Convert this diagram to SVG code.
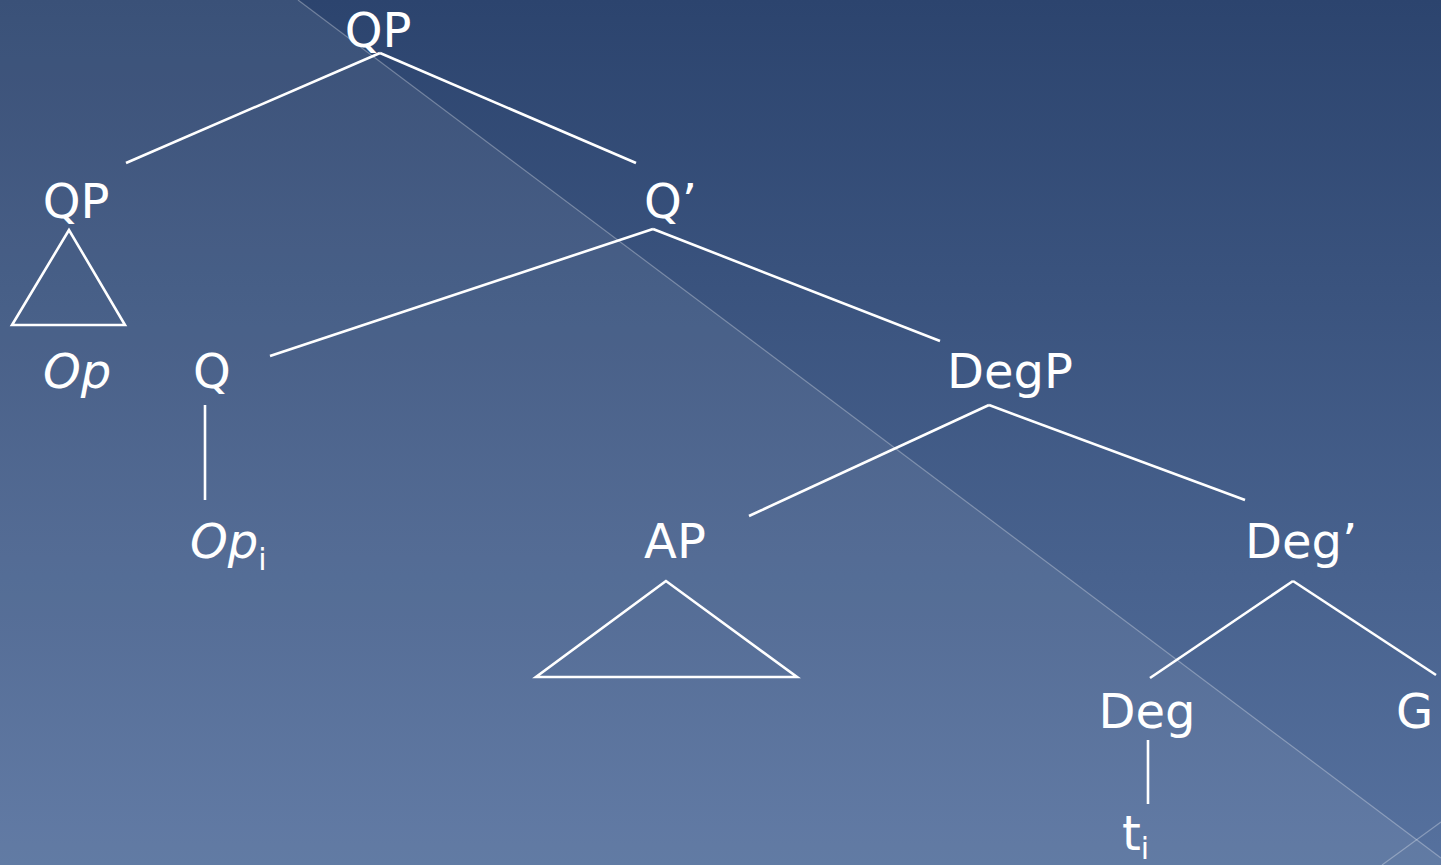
<svg xmlns="http://www.w3.org/2000/svg" width="1441" height="865" viewBox="0 0 1441 865">
<defs>
<linearGradient id="bg" x1="0" y1="0" x2="0" y2="1">
<stop offset="0" stop-color="#2c446e"/>
<stop offset="1" stop-color="#56719e"/>
</linearGradient>
<style>
.t{font-family:"DejaVu Sans","Open Sans",sans-serif;font-size:48px;fill:#fff}
.i{font-style:italic}
.s{font-size:30px}
.e{stroke:#fff;stroke-width:2.6;fill:none;stroke-linecap:butt}
</style>
</defs>
<rect width="1441" height="865" fill="url(#bg)"/>
<polygon points="0,0 298,0 1441,858 1441,865 0,865" fill="#ffffff" fill-opacity="0.07"/>
<line x1="298" y1="0" x2="1441" y2="858" stroke="#fff" stroke-opacity="0.3" stroke-width="1.2"/>
<line x1="1382" y1="865" x2="1441" y2="822" stroke="#fff" stroke-opacity="0.3" stroke-width="1.2"/>
<g id="connectors" class="e">
<line x1="380" y1="53" x2="126" y2="163"/>
<line x1="380" y1="53" x2="636" y2="163"/>
<line x1="653" y1="229" x2="270" y2="356"/>
<line x1="653" y1="229" x2="940" y2="341"/>
<line x1="205" y1="405" x2="205" y2="500"/>
<line x1="989" y1="405" x2="749" y2="516"/>
<line x1="989" y1="405" x2="1245" y2="500"/>
<line x1="1293" y1="581" x2="1150" y2="678"/>
<line x1="1293" y1="581" x2="1436" y2="675"/>
<line x1="1148" y1="740" x2="1148" y2="804"/>
</g>
<g id="n-qp-root"><text class="t" x="378" y="47" text-anchor="middle">QP</text></g>
<g id="n-qp-left"><text class="t" x="76" y="218" text-anchor="middle">QP</text>
<polygon class="e" points="69,230 12,325 125,325"/></g>
<g id="n-op"><text class="t i" x="77" y="388" text-anchor="middle">Op</text></g>
<g id="n-qbar"><text class="t" x="644" y="218">Q’</text></g>
<g id="n-q"><text class="t" x="212" y="388" text-anchor="middle">Q</text></g>
<g id="n-opi"><text class="t" x="190" y="558"><tspan class="i">Op</tspan><tspan class="s" dy="12">i</tspan></text></g>
<g id="n-degp"><text class="t" x="1010" y="388" text-anchor="middle">DegP</text></g>
<g id="n-ap"><text class="t" x="675" y="558" text-anchor="middle">AP</text>
<polygon class="e" points="666,581 536,677 797,677"/></g>
<g id="n-degbar"><text class="t" x="1245" y="558">Deg’</text></g>
<g id="n-deg"><text class="t" x="1147" y="728" text-anchor="middle">Deg</text></g>
<g id="n-g"><text class="t" x="1396" y="728">G</text></g>
<g id="n-ti"><text class="t" x="1122" y="850">t<tspan class="s" dy="9">i</tspan></text></g>
</svg>
